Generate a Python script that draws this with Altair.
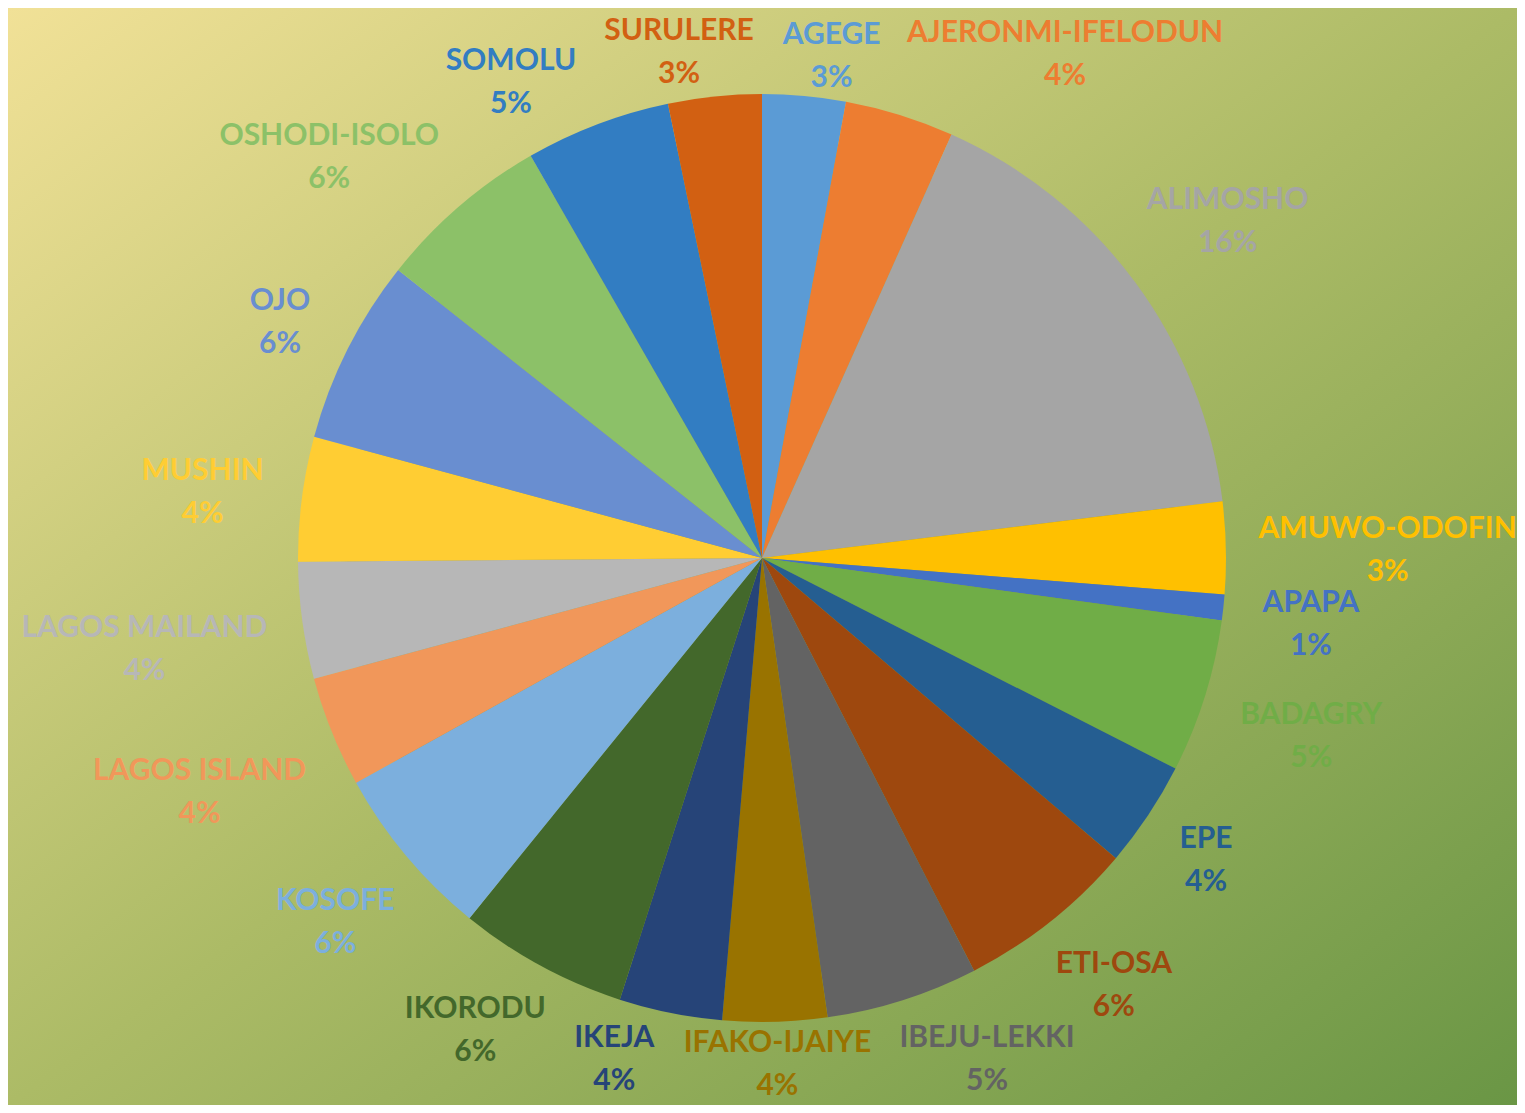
import math
import altair as alt
import pandas as pd

# ---- data ----
districts = ["AGEGE", "AJERONMI-IFELODUN", "ALIMOSHO", "AMUWO-ODOFIN", "APAPA",
             "BADAGRY", "EPE", "ETI-OSA", "IBEJU-LEKKI", "IFAKO-IJAIYE", "IKEJA",
             "IKORODU", "KOSOFE", "LAGOS ISLAND", "LAGOS MAILAND", "MUSHIN", "OJO",
             "OSHODI-ISOLO", "SOMOLU", "SURULERE"]
values = [2.9, 3.8, 16.36, 3.2, 0.9, 5.35, 3.7, 6.25, 5.3, 3.63, 3.59, 5.9, 6.1,
          3.86, 4.06, 4.34, 6.45, 6.04, 5.06, 3.25]
colors = ["#5B9BD5", "#ED7D31", "#A5A5A5", "#FFC000", "#4472C4", "#70AD47",
          "#255E91", "#9E480E", "#636363", "#997300", "#264478", "#43682B",
          "#7CAFDD", "#F1975A", "#B7B7B7", "#FFCD33", "#698ED0", "#8CC168",
          "#327DC2", "#D26012"]

# ---- layout constants ----
W, H = 1509, 1097
CX, CY = 754, 550
R = 464
FS = 30
LH = 43

CHAR_EM = {"A": .68, "B": .65, "C": .64, "D": .73, "E": .56, "F": .54, "G": .71,
           "H": .76, "I": .30, "J": .42, "K": .66, "L": .50, "M": .90, "N": .76,
           "O": .78, "P": .62, "R": .64, "S": .55, "T": .58, "U": .73, "W": .98,
           "Y": .63, "-": .37, " ": .26, "%": .85}


def text_w(s):
    return sum(CHAR_EM.get(c, 0.58) for c in s) * FS


n = len(values)
total = sum(values)
fracs = [v / total for v in values]
starts = [sum(fracs[:i]) for i in range(n)]
mids = [2 * math.pi * (s + f / 2) for s, f in zip(starts, fracs)]
pcts = [f"{round(f * 100):.0f}%" for f in fracs]
labels = [f"{d}\n{p}" for d, p in zip(districts, pcts)]
hw = [max(text_w(d), text_w(p)) / 2 for d, p in zip(districts, pcts)]
HH_R = 28      # half block height used for the radial offset
HH_C = 36      # half block height used for collisions
GAP_S = 36     # gap beside the pie
GAP_TOP = 10   # gap above the pie
GAP_BOT = 4    # gap below the pie


def place(a, w):
    s, c = abs(math.sin(a)), abs(math.cos(a))
    g = GAP_TOP if math.cos(a) > 0 else GAP_BOT
    r = R + GAP_S * s + g * c + w * s + HH_R * c
    return r * math.sin(a), -r * math.cos(a), r


ang = list(mids)
for _ in range(5000):
    moved = False
    for i in range(n):
        j = (i + 1) % n
        xi, yi, _ = place(ang[i], hw[i])
        xj, yj, _ = place(ang[j], hw[j])
        if abs(xi - xj) < hw[i] + hw[j] + 30 and abs(yi - yj) < 2 * HH_C + 2:
            ang[i] -= 0.0015
            ang[j] += 0.0015
            moved = True
    if not moved:
        break

lab_r = [place(a, w)[2] for a, w in zip(ang, hw)]

df = pd.DataFrame({"name": districts, "value": values, "idx": list(range(n)),
                   "label": labels, "lt": ang, "lr": lab_r})

color_scale = alt.Scale(domain=districts, range=colors)

bg = alt.Chart(pd.DataFrame({"a": [0]})).mark_rect(
    color=alt.Gradient(gradient="linear",
                       stops=[alt.GradientStop(color="#F1E197", offset=0),
                              alt.GradientStop(color="#ACBB66", offset=0.5),
                              alt.GradientStop(color="#6A9645", offset=1)],
                       x1=0, y1=0, x2=1, y2=1)
).encode(x=alt.value(0), x2=alt.value(W), y=alt.value(0), y2=alt.value(H))

shadows = []
for k in (11, 7, 4):
    shadows.append(
        alt.Chart(pd.DataFrame({"v": [1]})).mark_point(
            shape="circle", filled=True, color="#000000", opacity=0.05,
            size=math.pi * (R + k) ** 2, strokeWidth=0
        ).encode(x=alt.value(CX), y=alt.value(CY))
    )

pie = alt.Chart(df).mark_arc(outerRadius=R, strokeWidth=0).encode(
    theta=alt.Theta("value:Q", stack=True),
    order=alt.Order("idx:Q"),
    color=alt.Color("name:N", scale=color_scale, legend=None),
    x=alt.value(CX), y=alt.value(CY),
)

text = alt.Chart(df).mark_text(
    font="Lato", fontWeight="bold", fontSize=FS, lineBreak="\n", lineHeight=LH,
    align="center", baseline="middle", dy=-LH / 2 + 7
).encode(
    theta=alt.Theta("lt:Q", scale=None, stack=False),
    radius=alt.Radius("lr:Q", scale=None),
    text="label:N",
    color=alt.Color("name:N", scale=color_scale, legend=None),
    x=alt.value(CX), y=alt.value(CY),
)

chart = alt.layer(bg, *shadows, pie, text).properties(
    width=W, height=H, padding=0,
    autosize=alt.AutoSizeParams(type="none"),
).configure_view(stroke=None)

chart.save("out.html", embed_options={"renderer": "svg", "actions": False})
